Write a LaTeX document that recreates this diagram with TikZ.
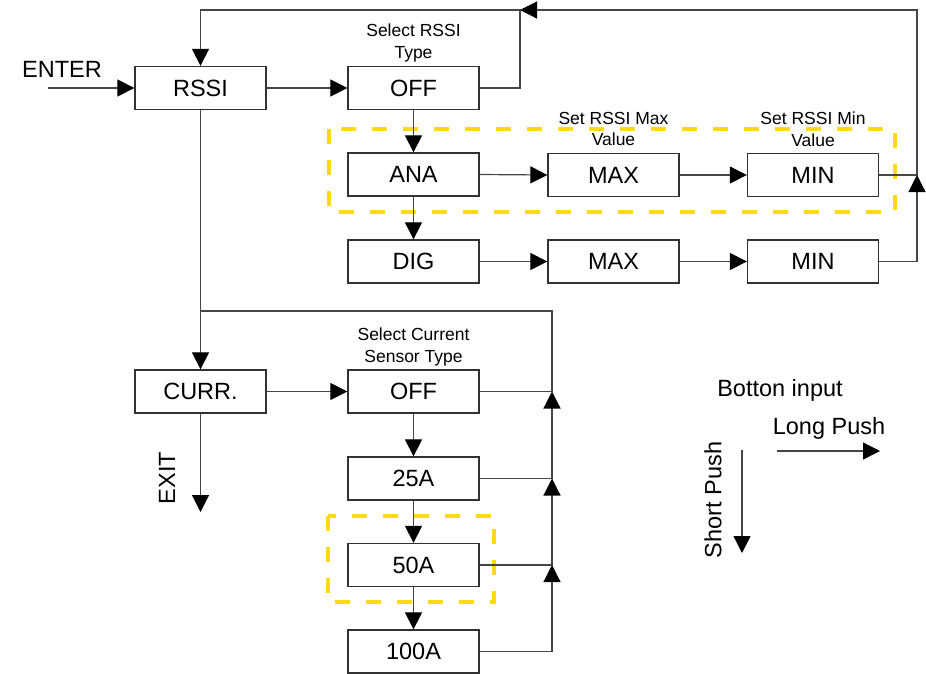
\documentclass[tikz,border=0pt]{standalone}
\usepackage{fontspec}
\setmainfont{Liberation Sans}
\usetikzlibrary{arrows.meta}
\definecolor{lc}{RGB}{70,70,70}
\definecolor{bc}{RGB}{50,50,50}
\definecolor{ylw}{RGB}{255,217,20}
\tikzset{
  stepbox/.style={draw=bc, line width=1.3pt, minimum width=131pt, minimum height=43pt, inner sep=0pt, font=\fontsize{23.5}{27}\selectfont},
  lbl/.style={align=center, font=\fontsize{17.5}{21.5}\selectfont, inner sep=0pt},
  big/.style={font=\fontsize{23.5}{27}\selectfont, inner sep=0pt},
  conn/.style={draw=lc, line width=1.2pt},
  arr/.style={conn, -{Triangle[length=17pt,width=17pt,color=black,fill=black]}},
  hl/.style={draw=ylw, line width=4.5pt, dash pattern=on 15pt off 16pt},
}
\begin{document}
\begin{tikzpicture}[x=1pt,y=-1pt]
\useasboundingbox (0,0) rectangle (926,673);
% highlight boxes
\draw[hl] (329,129) rectangle (895,212);
\draw[hl] (328,516) rectangle (494,602);
% boxes
\node[stepbox] (RSSI) at (200.5,88) {RSSI};
\node[stepbox] (OFF) at (413.5,88) {OFF};
\node[stepbox] (ANA) at (413.5,174.5) {ANA};
\node[stepbox] (MAX1) at (613.5,175) {MAX};
\node[stepbox] (MIN1) at (813,175) {MIN};
\node[stepbox] (DIG) at (413.5,261.5) {DIG};
\node[stepbox] (MAX2) at (613.5,261.5) {MAX};
\node[stepbox] (MIN2) at (813,261.5) {MIN};
\node[stepbox] (CURR) at (200.5,391.5) {CURR.};
\node[stepbox] (OFF2) at (413.5,391.5) {OFF};
\node[stepbox] (A25) at (413.5,478.5) {25A};
\node[stepbox] (A50) at (413.5,565) {50A};
\node[stepbox] (A100) at (413.5,651.5) {100A};
% labels
\node[lbl] (lRSSI) at (413.5,43) {Select RSSI\\Type};
\node[lbl] (lMax) at (613.5,129) {Set RSSI Max\\Value};
\node[lbl] (lMin) at (813,129) {Set RSSI Min\\Value};
\node[lbl] (lCur) at (413.5,347) {Select Current\\Sensor Type};
\node[big] (enter) at (62,69) {ENTER};
\node[big, rotate=90] (exit) at (167,478) {EXIT};
\node[big] (btn) at (780,390) {Botton input};
\node[big] (long) at (829,428) {Long Push};
\node[big, rotate=90] (short) at (713,500) {Short Push};
% coordinates
\coordinate (enterStart) at (48,88);
\coordinate (rA) at (917,175);
\coordinate (rT) at (917,10);
\coordinate (tJ) at (520,10);
\coordinate (c50) at (552,565);
\coordinate (c25) at (552,478.5);
\coordinate (cOFF) at (552,391.5);
\coordinate (cTop) at (552,311);
\coordinate (cJ) at (200.5,311);
\coordinate (exitEnd) at (200.5,512);
\coordinate (lpS) at (777,451);
\coordinate (lpE) at (880,451);
\coordinate (spS) at (742,450);
\coordinate (spE) at (742,553);
% connectors
\draw[arr] (enterStart) -- (RSSI.west);
\draw[arr] (RSSI.east) -- (OFF.west);
\draw[arr] (OFF.east) -| (tJ) -| (RSSI.north);
\draw[arr] (MIN1.east) -| (rT) -- (tJ);
\draw[arr] (MIN2.east) -| (rA);
\draw[arr] (OFF.south) -- (ANA.north);
\draw[arr] (ANA.south) -- (DIG.north);
\draw[arr] (ANA.east) -- (MAX1.west);
\draw[arr] (MAX1.east) -- (MIN1.west);
\draw[arr] (DIG.east) -- (MAX2.west);
\draw[arr] (MAX2.east) -- (MIN2.west);
\draw[arr] (RSSI.south) -- (CURR.north);
\draw[arr] (CURR.south) -- (exitEnd);
\draw[arr] (CURR.east) -- (OFF2.west);
\draw[arr] (OFF2.south) -- (A25.north);
\draw[arr] (A25.south) -- (A50.north);
\draw[arr] (A50.south) -- (A100.north);
\draw[arr] (A100.east) -| (c50);
\draw[arr] (A50.east) -- (c50) -- (c25);
\draw[arr] (A25.east) -- (c25) -- (cOFF);
\draw[conn] (OFF2.east) -- (cOFF) -- (cTop) -- (cJ);
\draw[arr] (lpS) -- (lpE);
\draw[arr] (spS) -- (spE);
\end{tikzpicture}
\end{document}
